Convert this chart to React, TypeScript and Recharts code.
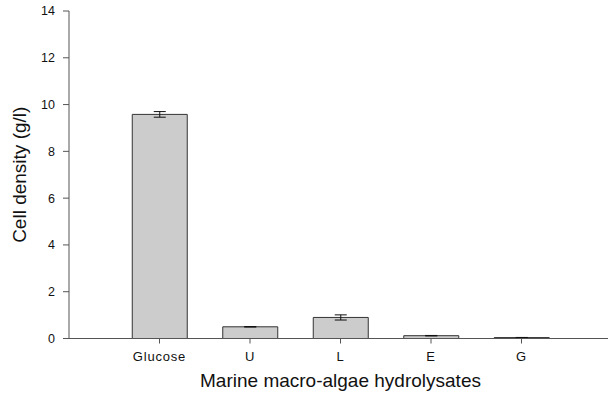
import { Bar, BarChart, ErrorBar, Label, XAxis, YAxis } from 'recharts'

const CATEGORIES = ['Glucose', 'U', 'L', 'E', 'G']
const DENSITY = [9.58, 0.5, 0.9, 0.12, 0.04]
const ERRORS = [0.12, 0.01, 0.11, 0.01, 0.005]
const Y_TICKS = [0, 2, 4, 6, 8, 10, 12, 14]

interface Datum {
  pos: number
  name: string
  value: number
  err: number
}

const data: Datum[] = CATEGORIES.map((name, i) => ({
  pos: i + 1,
  name,
  value: DENSITY[i],
  err: ERRORS[i],
}))

const AXIS = '#555'
const FONT = '"Liberation Sans", Arial, sans-serif'

export default function App() {
  return (
    <div
      style={{
        position: 'absolute',
        left: 0,
        top: 0,
        width: 608,
        height: 396,
        overflow: 'hidden',
        background: '#fff',
        fontFamily: FONT,
      }}
    >
      <BarChart
        width={620}
        height={396}
        data={data}
        margin={{ top: 11, right: 8, bottom: 7.5, left: 9 }}
      >
        <XAxis
          type="number"
          dataKey="pos"
          domain={[0, 6]}
          ticks={[1, 2, 3, 4, 5]}
          tickFormatter={(v: number) => CATEGORIES[v - 1] ?? ''}
          height={50}
          stroke={AXIS}
          tickSize={5}
          tickMargin={8}
          tick={{ fill: '#111', fontSize: 13, letterSpacing: 0.8, fontFamily: FONT }}
        >
          <Label
            value="Marine macro-algae hydrolysates"
            position="center"
            dy={17}
            style={{ fill: '#111', fontSize: 19, fontFamily: FONT }}
          />
        </XAxis>
        <YAxis
          domain={[0, 14]}
          ticks={Y_TICKS}
          width={60}
          stroke={AXIS}
          tickSize={6}
          tickMargin={8}
          tick={{ fill: '#111', fontSize: 12.5, fontFamily: FONT }}
        >
          <Label
            value="Cell density (g/l)"
            angle={-90}
            position="center"
            dx={-20}
            style={{ fill: '#111', fontSize: 19, fontFamily: FONT, textAnchor: 'middle' }}
          />
        </YAxis>
        <Bar
          dataKey="value"
          fill="#cccccc"
          stroke="#333"
          strokeWidth={1}
          barSize={55}
          isAnimationActive={false}
        >
          <ErrorBar dataKey="err" width={6} stroke="#111" strokeWidth={1} />
        </Bar>
      </BarChart>
    </div>
  )
}
